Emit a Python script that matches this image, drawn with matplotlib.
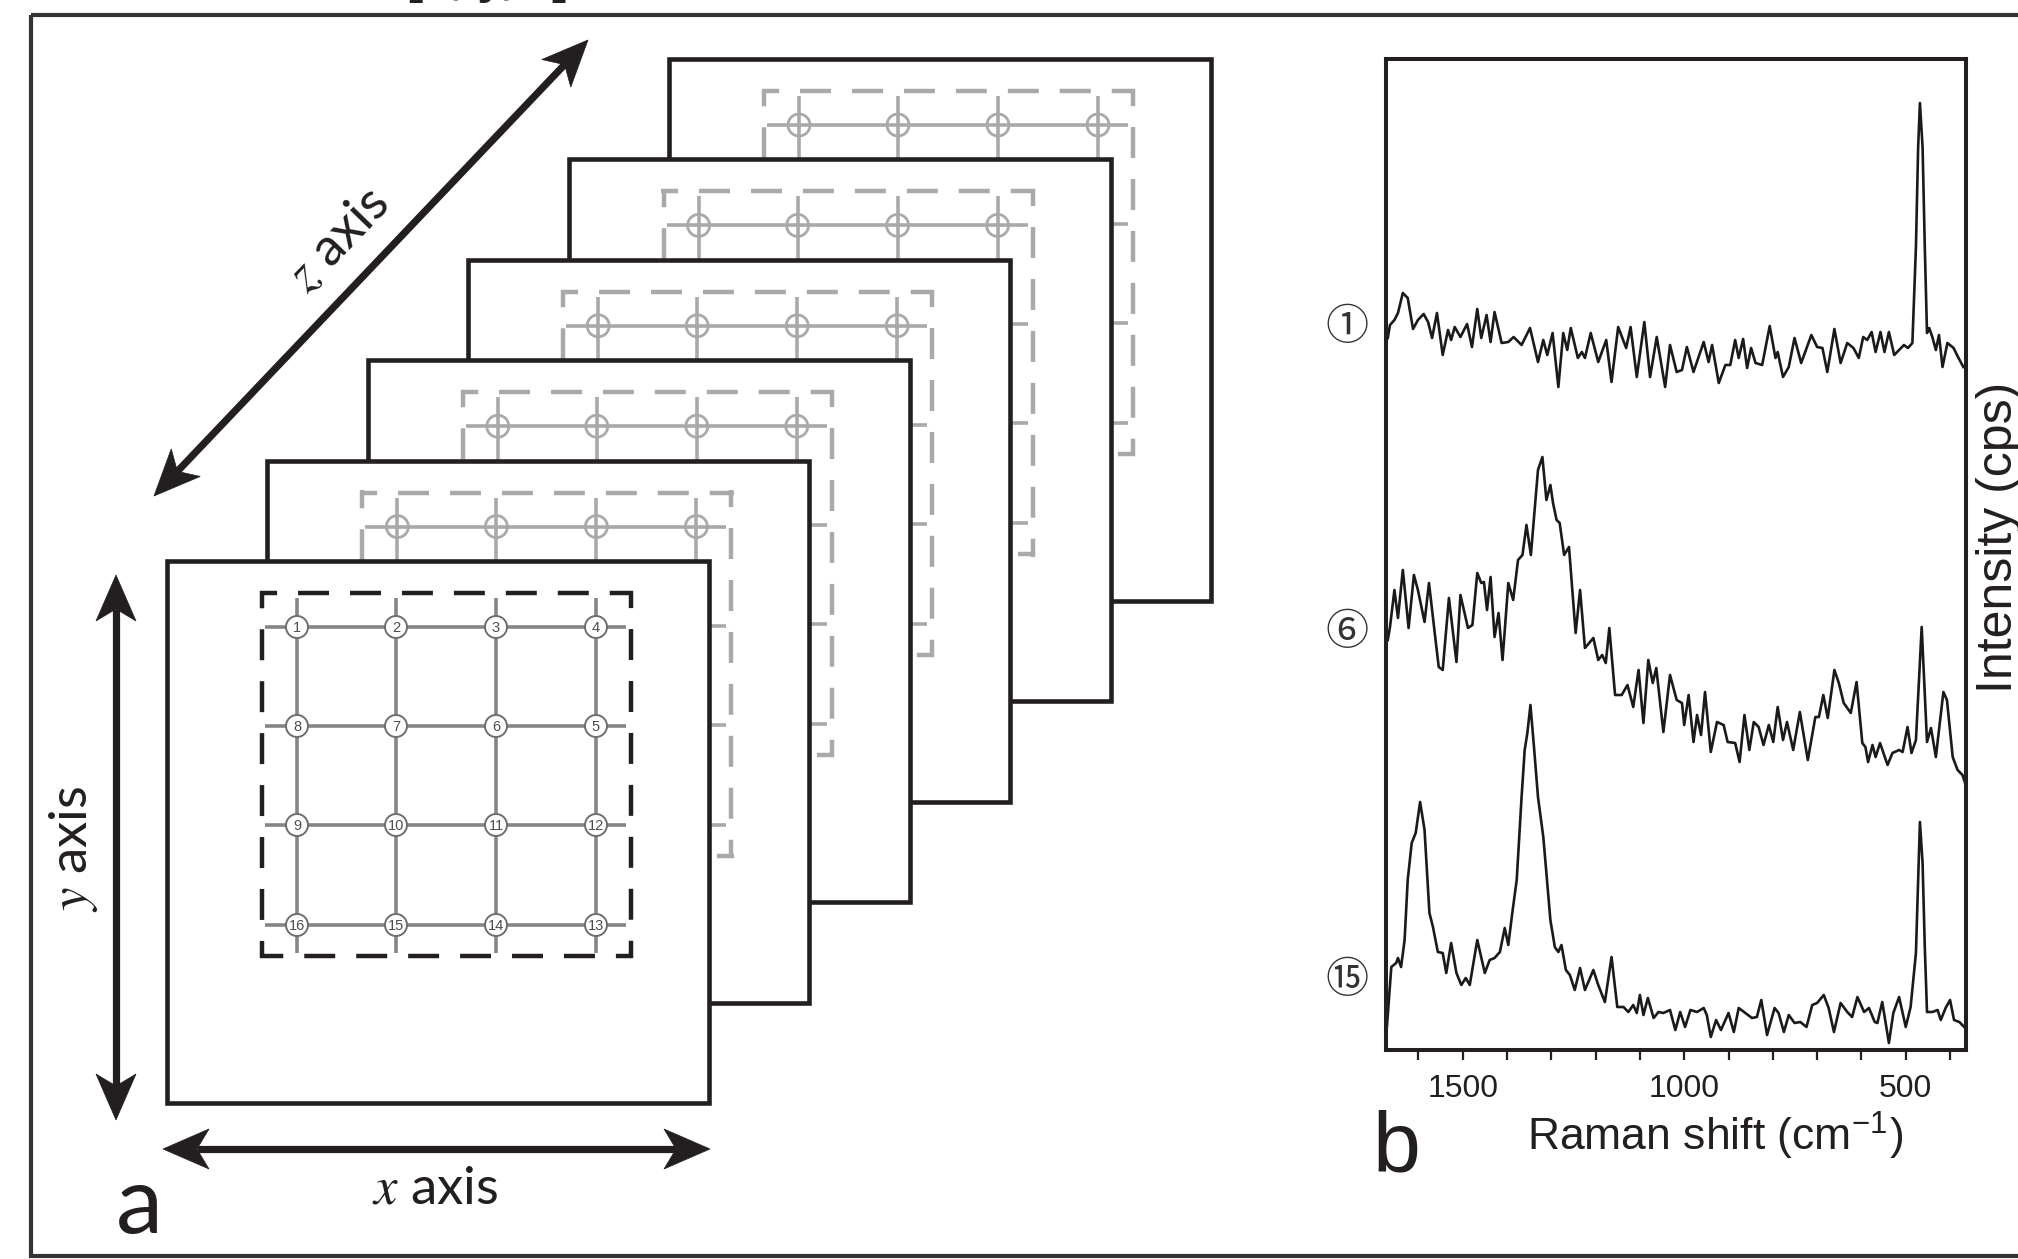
import numpy as np
import matplotlib.pyplot as plt
from matplotlib.patches import Rectangle, Circle, Polygon
from matplotlib.ticker import FixedLocator

plt.rcParams['mathtext.fontset'] = 'stix'
plt.rcParams['lines.scale_dashes'] = False

# Raman spectra: (shift cm-1, stacked intensity, arbitrary cps)
spec_1 = [(1669, 71.2), (1664, 72.5), (1654, 73.0), (1646, 73.7), (1635, 75.7), (1624, 75.2),
          (1612, 72.1), (1601, 73.0), (1588, 73.6), (1578, 72.8), (1569, 71.2), (1558, 73.7),
          (1545, 69.5), (1533, 72.0), (1526, 71.0), (1518, 72.3), (1505, 71.3), (1490, 72.6),
          (1479, 70.3), (1467, 74.1), (1458, 71.2), (1446, 73.5), (1437, 70.8), (1428, 73.8),
          (1412, 70.7), (1397, 70.8), (1385, 71.3), (1367, 70.5), (1348, 72.2), (1330, 68.8),
          (1318, 71.0), (1309, 69.5), (1297, 71.7), (1284, 66.3), (1273, 71.7), (1264, 70.0),
          (1256, 72.2), (1240, 69.2), (1231, 69.8), (1224, 69.2), (1211, 71.7), (1194, 68.8),
          (1176, 71.0), (1164, 66.8), (1149, 72.3), (1131, 70.2), (1121, 72.3), (1107, 67.3),
          (1090, 72.8), (1077, 67.3), (1062, 71.3), (1043, 66.3), (1032, 70.5), (1017, 67.8),
          (1005, 68.0), (994, 70.3), (979, 67.8), (956, 70.8), (945, 68.8), (937, 70.5),
          (922, 66.7), (907, 68.5), (896, 68.5), (885, 71.0), (877, 69.2), (867, 71.1),
          (858, 68.2), (849, 70.2), (839, 68.7), (824, 68.5), (807, 72.4), (794, 69.2),
          (789, 69.8), (777, 67.3), (764, 68.3), (751, 71.2), (736, 68.7), (713, 71.5),
          (700, 70.3), (688, 70.2), (677, 67.8), (661, 72.1), (647, 68.7), (632, 70.7),
          (618, 70.2), (606, 69.2), (596, 71.3), (587, 71.0), (577, 71.8), (568, 69.8),
          (557, 71.8), (548, 69.8), (538, 71.8), (526, 69.5), (515, 70.0), (504, 70.5),
          (495, 70.2), (485, 70.7), (477, 80.3), (472, 90.3), (468, 94.7), (462, 90.3),
          (457, 80.3), (452, 71.7), (447, 72.2), (440, 71.3), (432, 70.0), (425, 71.5),
          (417, 68.3), (406, 70.7), (392, 70.2), (382, 69.3), (370, 68.3)]

spec_6 = [(1669, 41.0), (1664, 42.3), (1654, 46.0), (1646, 43.2), (1635, 48.0), (1622, 42.2),
          (1610, 47.5), (1601, 46.0), (1586, 42.8), (1576, 46.7), (1563, 41.7), (1554, 38.3),
          (1545, 38.0), (1531, 45.2), (1514, 38.8), (1505, 45.5), (1488, 42.2), (1478, 42.5),
          (1467, 47.7), (1458, 46.7), (1452, 46.8), (1445, 44.0), (1437, 47.3), (1428, 41.3),
          (1419, 43.7), (1410, 39.0), (1397, 46.7), (1386, 45.0), (1375, 49.0), (1365, 49.5),
          (1356, 52.5), (1346, 49.5), (1337, 54.3), (1330, 58.0), (1320, 59.3), (1311, 55.0),
          (1302, 56.5), (1296, 54.7), (1288, 53.0), (1281, 52.7), (1271, 49.5), (1260, 50.3),
          (1245, 41.7), (1235, 46.0), (1224, 40.2), (1205, 41.2), (1194, 39.0), (1185, 39.5),
          (1177, 38.7), (1169, 42.2), (1156, 35.5), (1141, 35.5), (1128, 36.5), (1115, 34.3),
          (1103, 38.0), (1092, 32.7), (1081, 39.0), (1071, 36.7), (1063, 38.2), (1047, 31.8),
          (1032, 37.5), (1017, 35.0), (1005, 34.7), (1000, 32.5), (990, 35.5), (979, 30.8),
          (971, 33.5), (962, 31.5), (953, 35.8), (940, 29.8), (926, 32.8), (911, 32.5),
          (902, 30.8), (885, 30.7), (875, 28.8), (864, 33.5), (853, 30.0), (843, 32.8),
          (832, 32.3), (821, 30.5), (809, 32.5), (799, 30.8), (789, 34.3), (777, 31.0),
          (768, 32.8), (754, 30.0), (739, 33.8), (721, 29.0), (704, 33.3), (696, 33.3),
          (686, 35.5), (676, 33.2), (661, 38.0), (651, 36.7), (640, 34.7), (624, 33.7),
          (611, 36.8), (598, 30.7), (591, 30.3), (585, 28.8), (575, 30.5), (568, 29.3),
          (558, 30.7), (541, 28.5), (530, 29.7), (515, 30.0), (507, 29.8), (496, 32.3),
          (487, 29.7), (477, 31.0), (464, 42.3), (452, 30.8), (443, 32.2), (432, 29.3),
          (415, 35.8), (407, 35.0), (394, 29.3), (383, 28.0), (372, 27.5), (366, 26.7)]

spec_15 = [(1671, 2.3), (1661, 8.3), (1650, 8.7), (1646, 9.2), (1639, 8.3), (1631, 11.0),
           (1624, 17.0), (1615, 20.7), (1606, 21.7), (1596, 24.8), (1586, 22.0), (1575, 13.7),
           (1567, 12.3), (1556, 9.8), (1545, 9.7), (1537, 7.7), (1526, 10.7), (1514, 7.7),
           (1503, 6.5), (1493, 7.2), (1484, 6.5), (1467, 11.0), (1450, 7.7), (1439, 9.0),
           (1428, 9.2), (1416, 9.8), (1405, 12.2), (1397, 10.5), (1388, 13.7), (1378, 17.0),
           (1367, 25.3), (1360, 30.0), (1354, 31.7), (1347, 34.5), (1339, 30.3), (1330, 25.3),
           (1318, 21.3), (1311, 17.7), (1302, 13.0), (1292, 10.3), (1284, 9.8), (1277, 10.5),
           (1267, 8.0), (1258, 7.5), (1247, 6.0), (1235, 8.2), (1224, 6.0), (1205, 8.0),
           (1194, 6.5), (1179, 4.8), (1164, 9.3), (1151, 4.3), (1137, 4.3), (1126, 3.8),
           (1115, 4.5), (1107, 3.7), (1100, 5.5), (1092, 3.5), (1082, 5.2), (1069, 3.2),
           (1058, 3.8), (1047, 3.7), (1032, 4.0), (1020, 2.0), (1009, 3.8), (998, 2.3),
           (986, 4.0), (971, 3.8), (956, 4.2), (949, 3.5), (940, 1.3), (928, 3.0),
           (917, 2.0), (900, 3.7), (888, 1.8), (877, 4.2), (862, 3.7), (847, 3.2),
           (836, 3.3), (826, 5.0), (813, 1.5), (796, 4.2), (787, 3.7), (775, 1.8),
           (764, 3.5), (751, 2.7), (738, 2.8), (724, 2.3), (711, 4.5), (700, 4.7),
           (685, 5.5), (674, 4.2), (662, 1.8), (647, 4.7), (632, 3.8), (621, 3.3),
           (609, 5.3), (594, 3.8), (583, 4.2), (570, 2.8), (564, 2.7), (553, 4.8),
           (538, 0.7), (528, 3.7), (515, 5.3), (500, 2.3), (489, 4.3), (477, 9.7),
           (472, 17.0), (468, 22.8), (462, 18.7), (457, 10.3), (452, 3.8), (440, 3.8),
           (428, 4.0), (421, 3.0), (410, 4.2), (400, 5.0), (391, 3.0), (379, 2.8), (368, 2.3)]

spectra = [spec_1, spec_6, spec_15]
spectrum_tags = ['\u2460', '\u2465', '\u246e']   # circled 1, 6, 15
tag_levels = [72.2, 41.7, 6.9]

major_ticks = [1500, 1000, 500]
minor_ticks = [1600, 1400, 1300, 1200, 1100, 900, 800, 700, 600, 400]

# measurement points on each plane, snake order
point_labels = [[1, 2, 3, 4],
                [8, 7, 6, 5],
                [9, 10, 11, 12],
                [16, 15, 14, 13]]
n_planes = 6

BLACK = '#231f20'

fig = plt.figure(figsize=(20.18, 12.59), dpi=100)

# ---- panel a : drawn in pixel coordinates ----
ax = fig.add_axes([0, 0, 1, 1])
ax.set_xlim(0, 2018)
ax.set_ylim(1259, 0)
ax.axis('off')

ax.add_patch(Rectangle((31, 15), 2100, 1241, fill=False, ec='#333333', lw=3, zorder=1))

size = 542
step = 100.4
col_x = [130, 229, 329, 429]
row_y = [66, 165, 264, 364]


def dashed_side(x0, y0, x1, y1, color, z):
    ax.plot([x0, x1], [y0, y1], color=color, lw=3.2, zorder=z,
            linestyle=(10, (22.3, 15.1)), dash_capstyle='butt')


for i in range(n_planes - 1, -1, -1):
    ox = 167 + step * i
    oy = 561 - step * i
    z = 10 * (n_planes - i)
    front = (i == 0)
    gcol = '#858585' if front else '#a9a9a9'
    dcol = BLACK if front else '#a9a9a9'
    ax.add_patch(Rectangle((ox, oy), size, size, fc='white', ec=BLACK, lw=3.3, zorder=z))
    # dashed scan window
    x0, x1, y0, y1 = ox + 95, ox + 464, oy + 32, oy + 395
    h = 2.2
    dashed_side(x0 - h, y0, x1 + h, y0, dcol, z + 1)
    dashed_side(x1, y0 - h, x1, y1 + h, dcol, z + 1)
    dashed_side(x1 + h, y1, x0 - h, y1, dcol, z + 1)
    dashed_side(x0, y1 + h, x0, y0 - h, dcol, z + 1)
    # grid of measurement points
    for ry in row_y:
        ax.plot([ox + 98, ox + 459], [oy + ry, oy + ry], color=gcol, lw=2.6, zorder=z + 2,
                solid_capstyle='butt')
    for cx in col_x:
        ax.plot([ox + cx, ox + cx], [oy + 37, oy + 392], color=gcol, lw=2.6, zorder=z + 2,
                solid_capstyle='butt')
    for r, ry in enumerate(row_y):
        for c, cx in enumerate(col_x):
            if front:
                ax.add_patch(Circle((ox + cx, oy + ry), 11, fc='white', ec='#6e6e6e',
                                    lw=1.4, zorder=z + 3))
                ax.text(ox + cx, oy + ry + 0.5, str(point_labels[r][c]), ha='center',
                        va='center', fontsize=10.5, color='#4d4d4d',
                        family='Liberation Sans', zorder=z + 4)
            else:
                ax.add_patch(Circle((ox + cx, oy + ry), 11, fill=False, ec=gcol,
                                    lw=2.0, zorder=z + 3))


def double_arrow(p0, p1, shaft=5.2, hl=46, hw=20, notch=12, z=100):
    p0 = np.array(p0, float)
    p1 = np.array(p1, float)
    u = (p1 - p0) / np.hypot(*(p1 - p0))
    n = np.array([-u[1], u[0]])
    a = p0 + u * (hl - notch)
    b = p1 - u * (hl - notch)
    ax.plot([a[0], b[0]], [a[1], b[1]], color=BLACK, lw=shaft, solid_capstyle='butt', zorder=z)
    for tip, d in ((p0, u), (p1, -u)):
        base = tip + d * hl
        pts = [tip, base + n * hw, tip + d * (hl - notch), base - n * hw]
        ax.add_patch(Polygon(pts, closed=True, fc=BLACK, ec=BLACK, lw=0.5, zorder=z))


double_arrow((163, 1149), (710, 1149))
double_arrow((116, 575), (116, 1120))
double_arrow((154, 496), (588, 40))

lab = dict(family='Lato', fontsize=38, color=BLACK)
ax.text(435, 1203, '$x$ axis', ha='center', va='baseline', **lab)
ax.text(73, 849, '$y$ axis', ha='center', va='center', rotation=90, **lab)
ax.text(339, 240, '$z$ axis', ha='center', va='center', rotation=46, **lab)
ax.text(116, 1233, 'a', ha='left', va='baseline', family='Lato', fontsize=68, color=BLACK)
ax.text(1373, 1171, 'b', ha='left', va='baseline', family='Liberation Sans', fontsize=62,
        color=BLACK)
# caption fragment cut off by the top edge of the picture
ax.text(488, -7, '[x, y, z]', ha='center', va='baseline', family='Liberation Sans',
        fontsize=35, fontweight='bold', color=BLACK)

# ---- panel b : Raman spectra ----
axb = fig.add_axes([1386 / 2018, (1259 - 1050) / 1259, 580 / 2018, 991 / 1259])
for spec in spectra:
    shift = [p[0] for p in spec]
    inten = [p[1] for p in spec]
    axb.plot(shift, inten, color='#1a1a1a', lw=1.9, solid_joinstyle='round')
axb.set_xlim(1673, 364)
axb.set_ylim(0, 99.1)
axb.set_yticks([])
axb.xaxis.set_major_locator(FixedLocator(major_ticks))
axb.xaxis.set_minor_locator(FixedLocator(minor_ticks))
axb.tick_params(axis='x', which='both', direction='out', length=7, width=1.6, color=BLACK,
                labelsize=23, pad=10, labelcolor=BLACK)
for t in axb.get_xticklabels():
    t.set_family('Liberation Sans')
for s in axb.spines.values():
    s.set_linewidth(2.9)
    s.set_color(BLACK)

axb.set_xlabel('Raman shift (cm$^{\\mathregular{-1}}$)', family='Liberation Sans', fontsize=32,
               color=BLACK)
axb.xaxis.set_label_coords(0.567, (1050 - 1135) / 991)
axb.xaxis.label.set_va('center')
axb.text(1.057, 0.517, 'Intensity (cps)', rotation=90, ha='center', va='center',
         transform=axb.transAxes, family='Liberation Sans', fontsize=36, color=BLACK,
         clip_on=False)

for tag, lvl in zip(spectrum_tags, tag_levels):
    axb.text(-0.067, lvl, tag, transform=axb.get_yaxis_transform(), ha='center', va='center',
             family=['Noto Sans CJK JP', 'DejaVu Sans'], fontsize=31, color='#333333',
             clip_on=False)

fig.savefig('out.png', dpi=100)
